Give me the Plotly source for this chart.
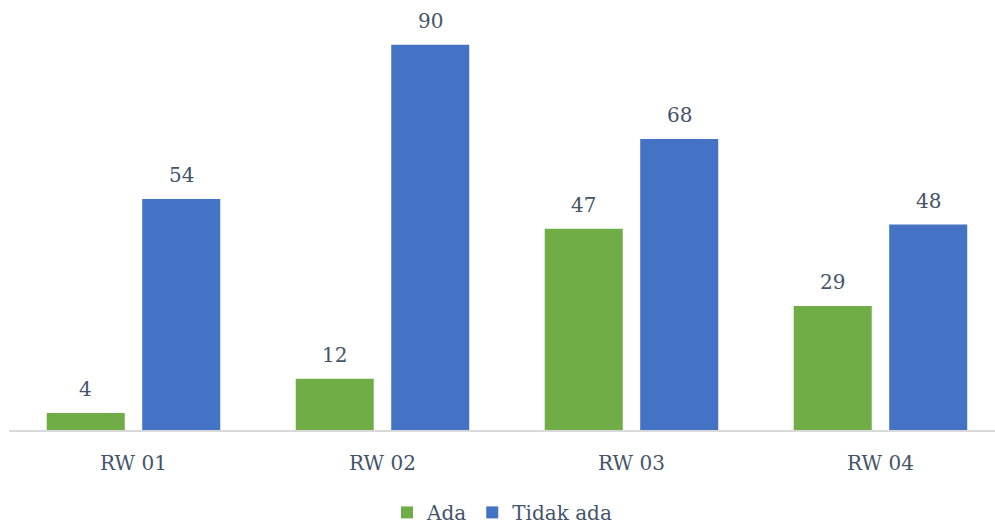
import plotly.graph_objects as go

categories = ["RW 01", "RW 02", "RW 03", "RW 04"]
ada = [4, 12, 47, 29]
tidak_ada = [54, 90, 68, 48]

FONT = "DejaVu Serif"
TXT = "#44546A"
GREEN = "#70AD47"
BLUE = "#4472C4"

fig = go.Figure()
fig.add_trace(go.Bar(name="Ada", x=categories, y=ada, marker=dict(color=GREEN, line=dict(width=0))))
fig.add_trace(go.Bar(name="Tidak ada", x=categories, y=tidak_ada, marker=dict(color=BLUE, line=dict(width=0))))

annotations = []
for vals, shift in ((ada, -47.75), (tidak_ada, 47.75)):
    for c, v in zip(categories, vals):
        annotations.append(dict(x=c, y=v, text=str(v), showarrow=False, xshift=shift,
                                yshift=10, yanchor="bottom",
                                font=dict(family=FONT, size=20, color=TXT)))

fig.update_layout(
    width=995, height=525,
    margin=dict(l=9, r=0, t=2, b=95),
    paper_bgcolor="white", plot_bgcolor="white",
    barmode="group", bargap=0.233, bargroupgap=0.183,
    font=dict(family=FONT, size=20, color=TXT),
    xaxis=dict(range=[-0.5, 3.46], showline=True, linecolor="#D9D9D9", linewidth=1.5,
               ticks="", showgrid=False, tickfont=dict(family=FONT, size=20, color=TXT),
               ticklabelstandoff=14),
    yaxis=dict(range=[0, 100], visible=False, showgrid=False, zeroline=False),
    legend=dict(orientation="h", x=0.5, xanchor="center", yref="container",
                y=0.024, yanchor="middle",
                font=dict(family=FONT, size=20, color=TXT), itemclick=False,
                tracegroupgap=0),
    annotations=annotations,
    showlegend=True,
)

fig.write_html("out.html", config={"displayModeBar": False},
               post_script="document.body.style.margin='0';document.body.style.overflow='hidden';")
